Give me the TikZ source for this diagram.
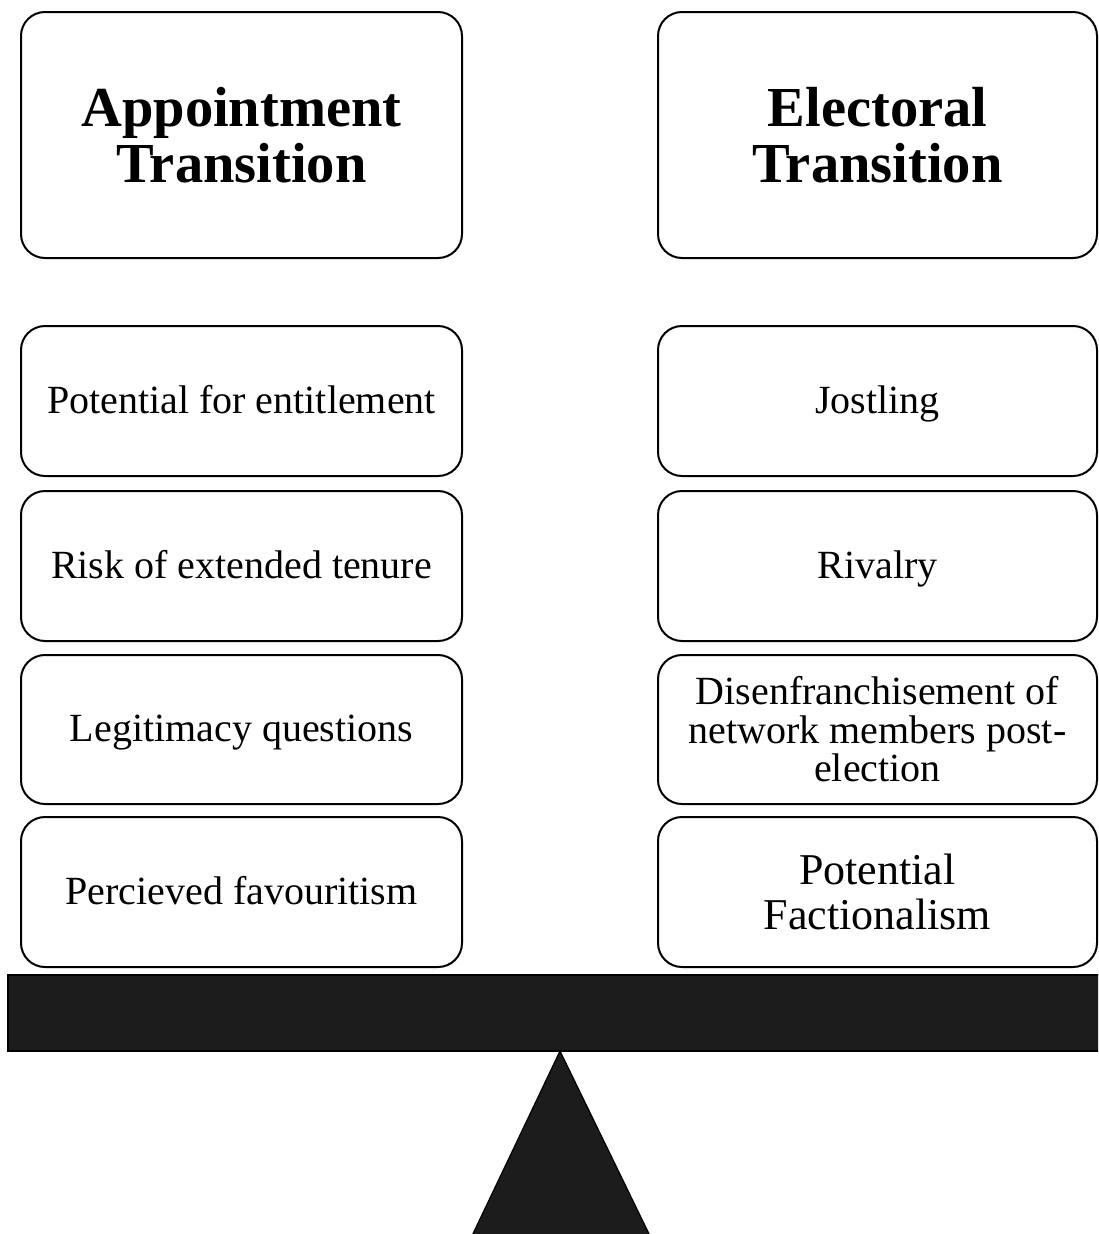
\documentclass[tikz,border=0pt]{standalone}
\usepackage{fontspec}
\setmainfont{Liberation Serif}
\definecolor{beam}{HTML}{1C1C1C}
\tikzset{
  card/.style={draw=black, line width=2pt, rounded corners=24pt, fill=white,
    inner sep=0pt, align=center, text=black},
  headcard/.style={card, minimum height=246pt,
    font=\fontsize{56.5}{56}\selectfont\bfseries},
  itemcard/.style={card, minimum height=150pt,
    font=\fontsize{40}{38.5}\selectfont},
  oneline/.style={text height=36pt, text depth=12pt},
  leftcol/.style={minimum width=441pt},
  rightcol/.style={minimum width=439pt},
  solid shape/.style={fill=beam, draw=black, line width=1.2pt}
}
\begin{document}
\begin{tikzpicture}[x=1pt,y=-1pt]
\useasboundingbox (0,0) rectangle (1098,1234);
\clip (0,0) rectangle (1098,1234);
% headings
\node[headcard,leftcol] (appt) at (241.5,135) {Appointment\\Transition};
\node[headcard,rightcol] (elec) at (877.5,135) {Electoral\\Transition};
% left column
\node[itemcard,oneline,leftcol] (l1) at (241.5,401) {Potential for entitlement};
\node[itemcard,oneline,leftcol] (l2) at (241.5,566) {Risk of extended tenure};
\node[itemcard,oneline,leftcol,minimum height=149pt] (l3) at (241.5,729.5) {Legitimacy questions};
\node[itemcard,oneline,leftcol] (l4) at (241.5,892) {Percieved favouritism};
% right column
\node[itemcard,oneline,rightcol] (r1) at (877.5,401) {Jostling};
\node[itemcard,oneline,rightcol] (r2) at (877.5,566) {Rivalry};
\node[itemcard,rightcol,minimum height=149pt] (r3) at (877.5,729.5) {Disenfranchisement of\\network members post-\\election};
\node[itemcard,rightcol,font=\fontsize{44}{45}\selectfont] (r4) at (877.5,892) {Potential\\Factionalism};
% seesaw beam and fulcrum
\draw[solid shape] (8,975) rectangle (1110,1051);
\coordinate (apex) at (560,1051);
\draw[solid shape] (apex) -- (652,1240) -- (470,1240) -- cycle;
\end{tikzpicture}
\end{document}
